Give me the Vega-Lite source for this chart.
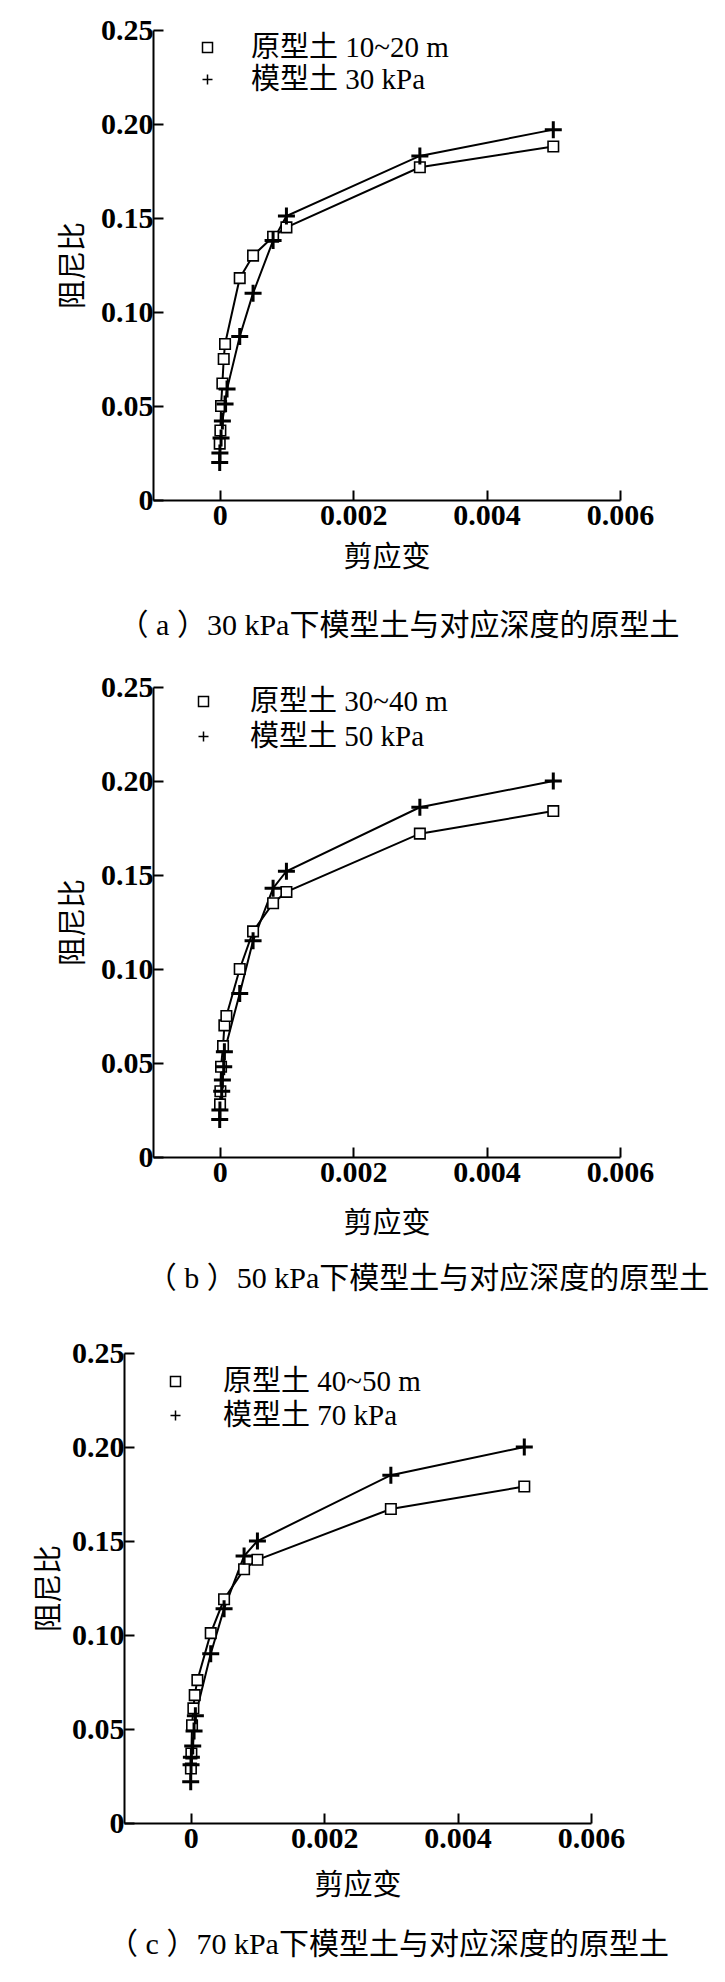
{
  "$schema": "https://vega.github.io/schema/vega-lite/v6.json",
  "background": "white",
  "padding": {"left": 35, "top": 15, "right": 5, "bottom": 5},
  "datasets": {
    "a": [
      {"x": 0, "y": 0.030, "s": "原型土 10~20 m"},
      {"x": 0.00001, "y": 0.037, "s": "原型土 10~20 m"},
      {"x": 0.00002, "y": 0.050, "s": "原型土 10~20 m"},
      {"x": 0.00004, "y": 0.062, "s": "原型土 10~20 m"},
      {"x": 0.00006, "y": 0.075, "s": "原型土 10~20 m"},
      {"x": 0.00008, "y": 0.083, "s": "原型土 10~20 m"},
      {"x": 0.0003, "y": 0.118, "s": "原型土 10~20 m"},
      {"x": 0.0005, "y": 0.130, "s": "原型土 10~20 m"},
      {"x": 0.0008, "y": 0.140, "s": "原型土 10~20 m"},
      {"x": 0.001, "y": 0.145, "s": "原型土 10~20 m"},
      {"x": 0.003, "y": 0.177, "s": "原型土 10~20 m"},
      {"x": 0.005, "y": 0.188, "s": "原型土 10~20 m"},
      {"x": 0, "y": 0.020, "s": "模型土 30 kPa"},
      {"x": 0.000003, "y": 0.025, "s": "模型土 30 kPa"},
      {"x": 0.00002, "y": 0.033, "s": "模型土 30 kPa"},
      {"x": 0.00004, "y": 0.042, "s": "模型土 30 kPa"},
      {"x": 0.00008, "y": 0.051, "s": "模型土 30 kPa"},
      {"x": 0.00011, "y": 0.059, "s": "模型土 30 kPa"},
      {"x": 0.0003, "y": 0.087, "s": "模型土 30 kPa"},
      {"x": 0.0005, "y": 0.110, "s": "模型土 30 kPa"},
      {"x": 0.0008, "y": 0.138, "s": "模型土 30 kPa"},
      {"x": 0.001, "y": 0.151, "s": "模型土 30 kPa"},
      {"x": 0.003, "y": 0.183, "s": "模型土 30 kPa"},
      {"x": 0.005, "y": 0.197, "s": "模型土 30 kPa"}
    ],
    "b": [
      {"x": 0.000005, "y": 0.028, "s": "原型土 30~40 m"},
      {"x": 0.00001, "y": 0.035, "s": "原型土 30~40 m"},
      {"x": 0.00002, "y": 0.048, "s": "原型土 30~40 m"},
      {"x": 0.00005, "y": 0.059, "s": "原型土 30~40 m"},
      {"x": 0.00007, "y": 0.070, "s": "原型土 30~40 m"},
      {"x": 0.0001, "y": 0.075, "s": "原型土 30~40 m"},
      {"x": 0.0003, "y": 0.100, "s": "原型土 30~40 m"},
      {"x": 0.0005, "y": 0.120, "s": "原型土 30~40 m"},
      {"x": 0.0008, "y": 0.135, "s": "原型土 30~40 m"},
      {"x": 0.001, "y": 0.141, "s": "原型土 30~40 m"},
      {"x": 0.003, "y": 0.172, "s": "原型土 30~40 m"},
      {"x": 0.005, "y": 0.184, "s": "原型土 30~40 m"},
      {"x": 0, "y": 0.020, "s": "模型土 50 kPa"},
      {"x": 0.000003, "y": 0.025, "s": "模型土 50 kPa"},
      {"x": 0.00003, "y": 0.035, "s": "模型土 50 kPa"},
      {"x": 0.00004, "y": 0.041, "s": "模型土 50 kPa"},
      {"x": 0.00006, "y": 0.048, "s": "模型土 50 kPa"},
      {"x": 0.00007, "y": 0.056, "s": "模型土 50 kPa"},
      {"x": 0.0003, "y": 0.087, "s": "模型土 50 kPa"},
      {"x": 0.0005, "y": 0.115, "s": "模型土 50 kPa"},
      {"x": 0.0008, "y": 0.143, "s": "模型土 50 kPa"},
      {"x": 0.001, "y": 0.152, "s": "模型土 50 kPa"},
      {"x": 0.003, "y": 0.186, "s": "模型土 50 kPa"},
      {"x": 0.005, "y": 0.200, "s": "模型土 50 kPa"}
    ],
    "c": [
      {"x": 0.000003, "y": 0.029, "s": "原型土 40~50 m"},
      {"x": 0.00001, "y": 0.037, "s": "原型土 40~50 m"},
      {"x": 0.00002, "y": 0.052, "s": "原型土 40~50 m"},
      {"x": 0.00004, "y": 0.061, "s": "原型土 40~50 m"},
      {"x": 0.00006, "y": 0.068, "s": "原型土 40~50 m"},
      {"x": 0.0001, "y": 0.076, "s": "原型土 40~50 m"},
      {"x": 0.0003, "y": 0.101, "s": "原型土 40~50 m"},
      {"x": 0.0005, "y": 0.119, "s": "原型土 40~50 m"},
      {"x": 0.0008, "y": 0.135, "s": "原型土 40~50 m"},
      {"x": 0.001, "y": 0.140, "s": "原型土 40~50 m"},
      {"x": 0.003, "y": 0.167, "s": "原型土 40~50 m"},
      {"x": 0.005, "y": 0.179, "s": "原型土 40~50 m"},
      {"x": 0, "y": 0.022, "s": "模型土 70 kPa"},
      {"x": 0.000005, "y": 0.031, "s": "模型土 70 kPa"},
      {"x": 0.00001, "y": 0.035, "s": "模型土 70 kPa"},
      {"x": 0.00003, "y": 0.041, "s": "模型土 70 kPa"},
      {"x": 0.00005, "y": 0.049, "s": "模型土 70 kPa"},
      {"x": 0.00007, "y": 0.057, "s": "模型土 70 kPa"},
      {"x": 0.0003, "y": 0.090, "s": "模型土 70 kPa"},
      {"x": 0.0005, "y": 0.114, "s": "模型土 70 kPa"},
      {"x": 0.0008, "y": 0.142, "s": "模型土 70 kPa"},
      {"x": 0.001, "y": 0.150, "s": "模型土 70 kPa"},
      {"x": 0.003, "y": 0.185, "s": "模型土 70 kPa"},
      {"x": 0.005, "y": 0.200, "s": "模型土 70 kPa"}
    ]
  },
  "spacing": 44,
  "vconcat": [
    {
      "spacing": 31,
      "vconcat": [
        {
          "width": 496, "height": 470,
          "data": {"name": "a"},
          "title": {"text": "（ a ）30 kPa下模型土与对应深度的原型土", "orient": "bottom", "offset": 39, "dx": 27},
          "encoding": {
            "x": {"field": "x", "type": "quantitative", "scale": {"domain": [-0.001, 0.006], "range": [29, 496], "nice": false, "zero": false},
                  "axis": {"title": "剪应变", "values": [0, 0.002, 0.004, 0.006], "format": ".3~f", "titlePadding": 13}},
            "y": {"field": "y", "type": "quantitative", "scale": {"domain": [0, 0.25], "nice": false},
                  "axis": {"title": "阻尼比", "offset": -29, "values": [0, 0.05, 0.1, 0.15, 0.2, 0.25], "labelExpr": "datum.value == 0 ? '0' : format(datum.value, '.2f')", "titlePadding": 12}}
          },
          "layer": [
            {"mark": {"type": "line", "color": "black", "strokeWidth": 2}, "encoding": {"detail": {"field": "s"}}},
            {"transform": [{"filter": "indexof(datum.s, '原型土') == 0"}],
             "mark": {"type": "point", "filled": false, "fill": "white", "stroke": "black", "strokeWidth": 1.6, "size": 110, "opacity": 1},
             "encoding": {"shape": {"field": "s", "type": "nominal",
               "scale": {"domain": ["原型土 10~20 m", "模型土 30 kPa"], "range": ["square", "M-1,0H1M0,-1V1"]},
               "legend": {"orient": "top-left", "title": null, "offset": 3, "padding": 0, "symbolSize": 100, "symbolOffset": 66, "labelOffset": 29, "rowPadding": 2, "labelLimit": 0,
                 "labelFont": "Liberation Serif, Noto Sans CJK SC", "labelFontSize": 29, "labelColor": "black"}}}},
            {"transform": [{"filter": "indexof(datum.s, '模型土') == 0"}],
             "mark": {"type": "point", "filled": false, "stroke": "black", "strokeWidth": 3, "size": 289, "opacity": 1},
             "encoding": {"shape": {"field": "s", "type": "nominal",
               "scale": {"domain": ["原型土 10~20 m", "模型土 30 kPa"], "range": ["square", "M-1,0H1M0,-1V1"]}}}}
          ]
        },
        {
          "width": 496, "height": 470,
          "data": {"name": "b"},
          "title": {"text": "（ b ）50 kPa下模型土与对应深度的原型土", "orient": "bottom", "offset": 26, "dx": 56},
          "encoding": {
            "x": {"field": "x", "type": "quantitative", "scale": {"domain": [-0.001, 0.006], "range": [29, 496], "nice": false, "zero": false},
                  "axis": {"title": "剪应变", "values": [0, 0.002, 0.004, 0.006], "format": ".3~f", "titlePadding": 22}},
            "y": {"field": "y", "type": "quantitative", "scale": {"domain": [0, 0.25], "nice": false},
                  "axis": {"title": "阻尼比", "offset": -29, "values": [0, 0.05, 0.1, 0.15, 0.2, 0.25], "labelExpr": "datum.value == 0 ? '0' : format(datum.value, '.2f')", "titlePadding": 12}}
          },
          "layer": [
            {"mark": {"type": "line", "color": "black", "strokeWidth": 2}, "encoding": {"detail": {"field": "s"}}},
            {"transform": [{"filter": "indexof(datum.s, '原型土') == 0"}],
             "mark": {"type": "point", "filled": false, "fill": "white", "stroke": "black", "strokeWidth": 1.6, "size": 110, "opacity": 1},
             "encoding": {"shape": {"field": "s", "type": "nominal",
               "scale": {"domain": ["原型土 30~40 m", "模型土 50 kPa"], "range": ["square", "M-1,0H1M0,-1V1"]},
               "legend": {"orient": "top-left", "title": null, "offset": 0, "padding": 0, "symbolSize": 100, "symbolOffset": 65, "labelOffset": 32, "rowPadding": 5, "labelLimit": 0,
                 "labelFont": "Liberation Serif, Noto Sans CJK SC", "labelFontSize": 29, "labelColor": "black"}}}},
            {"transform": [{"filter": "indexof(datum.s, '模型土') == 0"}],
             "mark": {"type": "point", "filled": false, "stroke": "black", "strokeWidth": 3, "size": 289, "opacity": 1},
             "encoding": {"shape": {"field": "s", "type": "nominal",
               "scale": {"domain": ["原型土 30~40 m", "模型土 50 kPa"], "range": ["square", "M-1,0H1M0,-1V1"]}}}}
          ]
        }
      ],
      "resolve": {"scale": {"shape": "independent"}, "legend": {"shape": "independent"}}
    },
    {
      "width": 467, "height": 470,
      "data": {"name": "c"},
      "title": {"text": "（ c ）70 kPa下模型土与对应深度的原型土", "orient": "bottom", "offset": 30, "dx": 31},
      "encoding": {
        "x": {"field": "x", "type": "quantitative", "scale": {"domain": [-0.001, 0.006], "nice": false, "zero": false},
              "axis": {"title": "剪应变", "values": [0, 0.002, 0.004, 0.006], "format": ".3~f", "titlePadding": 18}},
        "y": {"field": "y", "type": "quantitative", "scale": {"domain": [0, 0.25], "nice": false},
              "axis": {"title": "阻尼比", "values": [0, 0.05, 0.1, 0.15, 0.2, 0.25], "labelExpr": "datum.value == 0 ? '0' : format(datum.value, '.2f')", "titlePadding": 7}}
      },
      "layer": [
        {"mark": {"type": "line", "color": "black", "strokeWidth": 2}, "encoding": {"detail": {"field": "s"}}},
        {"transform": [{"filter": "indexof(datum.s, '原型土') == 0"}],
         "mark": {"type": "point", "filled": false, "fill": "white", "stroke": "black", "strokeWidth": 1.6, "size": 110, "opacity": 1},
         "encoding": {"shape": {"field": "s", "type": "nominal",
           "scale": {"domain": ["原型土 40~50 m", "模型土 70 kPa"], "range": ["square", "M-1,0H1M0,-1V1"]},
           "legend": {"orient": "top-left", "title": null, "offset": 14, "padding": 0, "symbolSize": 100, "symbolOffset": 23, "labelOffset": 33, "rowPadding": 4, "labelLimit": 0,
             "labelFont": "Liberation Serif, Noto Sans CJK SC", "labelFontSize": 29, "labelColor": "black"}}}},
        {"transform": [{"filter": "indexof(datum.s, '模型土') == 0"}],
         "mark": {"type": "point", "filled": false, "stroke": "black", "strokeWidth": 3, "size": 289, "opacity": 1},
         "encoding": {"shape": {"field": "s", "type": "nominal",
           "scale": {"domain": ["原型土 40~50 m", "模型土 70 kPa"], "range": ["square", "M-1,0H1M0,-1V1"]}}}}
      ]
    }
  ],
  "resolve": {"scale": {"shape": "independent"}, "legend": {"shape": "independent"}},
  "config": {
    "view": {"stroke": null},
    "font": "Liberation Serif, Noto Sans CJK SC",
    "axis": {"grid": false, "domainColor": "black", "domainWidth": 2, "tickColor": "black", "tickWidth": 2, "tickSize": -10,
             "labelFont": "Liberation Serif", "labelFontSize": 30, "labelFontWeight": "bold", "labelColor": "black", "labelPadding": 10, "labelFlush": false, "labelOverlap": false,
             "titleFont": "Liberation Serif, Noto Sans CJK SC", "titleFontSize": 29, "titleFontWeight": "normal", "titleColor": "black"},
    "title": {"font": "Liberation Serif, Noto Sans CJK SC", "fontSize": 30, "fontWeight": "normal", "color": "black"}
  }
}
